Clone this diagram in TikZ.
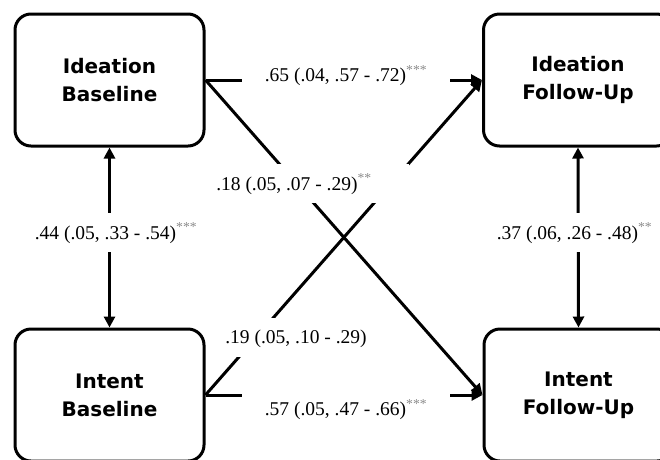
\documentclass[tikz,border=0pt]{standalone}
\usepackage{fontspec}
\setmainfont{Liberation Serif}
\newfontfamily\boxfont{DejaVu Sans}
\usetikzlibrary{arrows.meta}
\begin{document}
\begin{tikzpicture}[x=1pt,y=-1pt,
  varbox/.style={draw, line width=3pt, rounded corners=16pt, minimum width=189pt, minimum height=132pt,
    align=center, inner sep=0pt, font=\boxfont\bfseries\fontsize{20}{28}\selectfont},
  lbl/.style={fill=white, inner sep=0pt, font=\fontsize{19.5}{22}\selectfont,
    text height=13.2pt, text depth=0pt, minimum height=39pt},
  conn/.style={line width=3pt, -{Triangle[width=11pt,length=11pt]}},
  biconn/.style={line width=3pt, {Triangle[width=11pt,length=11pt]}-{Triangle[width=11pt,length=11pt]}}
]
\newcommand{\sig}[1]{\textsuperscript{\color{black!45}#1}}
\useasboundingbox (0,0) rectangle (660,459);
\node[varbox] (IB) at (109.5,80) {Ideation\\Baseline};
\node[varbox] (IF) at (578,80) {Ideation\\Follow-Up};
\node[varbox] (TB) at (109.5,395) {Intent\\Baseline};
\node[varbox] (TF) at (578.5,395) {Intent\\Follow-Up};
% connectors
\draw[conn] (IB.east) -- (IF.west);
\draw[conn] (TB.east) -- (TF.west);
\draw[conn] (IB.east) -- (TF.west);
\draw[conn] (TB.east) -- (IF.west);
\draw[biconn] (IB.south) -- (TB.north);
\draw[biconn] (IF.south) -- (TF.north);
% labels
\node[lbl, minimum width=208pt] (l65) at (346,75) {.65 (.04, .57 - .72)\sig{***}};
\node[lbl, minimum width=208pt] (l57) at (346,409) {.57 (.05, .47 - .66)\sig{***}};
\node[lbl, minimum width=230pt] (l18) at (294,183.5) {.18 (.05, .07 - .29)\sig{**}};
\node[lbl, minimum width=180pt] (l19) at (296,337) {.19 (.05, .10 - .29)};
\node[lbl, inner xsep=3pt] (l44) at (116,232.5) {.44 (.05, .33 - .54)\sig{***}};
\node[lbl, inner xsep=3pt] (l37) at (574.5,232.5) {.37 (.06, .26 - .48)\sig{**}};
\end{tikzpicture}
\end{document}
